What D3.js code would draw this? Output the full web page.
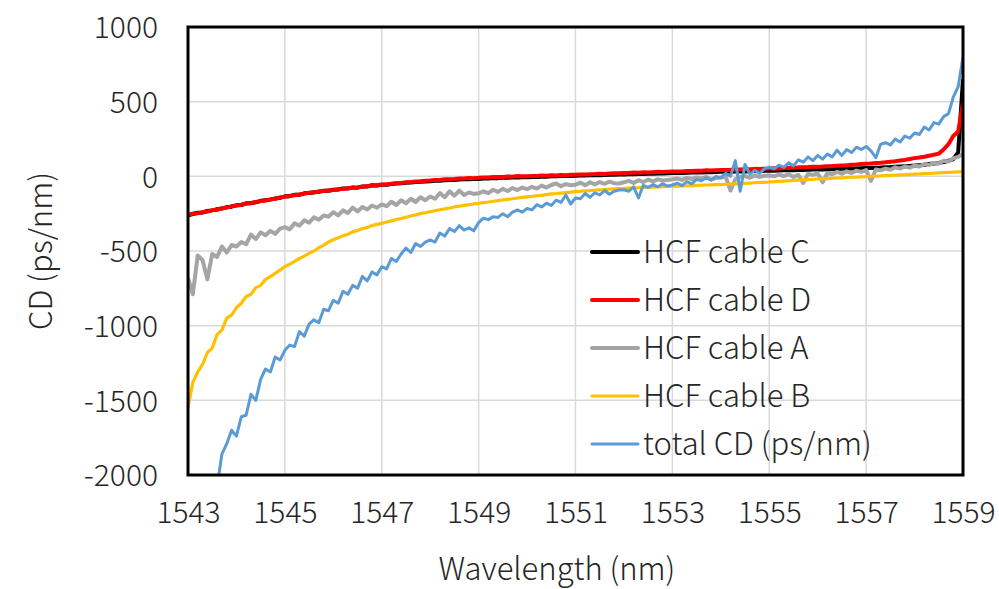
<!DOCTYPE html>
<html>
<head>
<meta charset="utf-8">
<script src="https://cdn.jsdelivr.net/npm/d3@7"></script>
<style>
  body { margin: 0; background: #fff; }
  svg text { font-family: "Noto Sans CJK JP", "Noto Sans", sans-serif; font-weight: 300; fill: #262626; }
</style>
</head>
<body>
<div id="chart"></div>
<script>
// wavelength grid (nm), 0.1 nm steps
var wavelength = [
  1543.0,1543.1,1543.2,1543.3,1543.4,1543.5,1543.6,1543.7,1543.8,1543.9,
  1544.0,1544.1,1544.2,1544.3,1544.4,1544.5,1544.6,1544.7,1544.8,1544.9,
  1545.0,1545.1,1545.2,1545.3,1545.4,1545.5,1545.6,1545.7,1545.8,1545.9,
  1546.0,1546.1,1546.2,1546.3,1546.4,1546.5,1546.6,1546.7,1546.8,1546.9,
  1547.0,1547.1,1547.2,1547.3,1547.4,1547.5,1547.6,1547.7,1547.8,1547.9,
  1548.0,1548.1,1548.2,1548.3,1548.4,1548.5,1548.6,1548.7,1548.8,1548.9,
  1549.0,1549.1,1549.2,1549.3,1549.4,1549.5,1549.6,1549.7,1549.8,1549.9,
  1550.0,1550.1,1550.2,1550.3,1550.4,1550.5,1550.6,1550.7,1550.8,1550.9,
  1551.0,1551.1,1551.2,1551.3,1551.4,1551.5,1551.6,1551.7,1551.8,1551.9,
  1552.0,1552.1,1552.2,1552.3,1552.4,1552.5,1552.6,1552.7,1552.8,1552.9,
  1553.0,1553.1,1553.2,1553.3,1553.4,1553.5,1553.6,1553.7,1553.8,1553.9,
  1554.0,1554.1,1554.2,1554.3,1554.4,1554.5,1554.6,1554.7,1554.8,1554.9,
  1555.0,1555.1,1555.2,1555.3,1555.4,1555.5,1555.6,1555.7,1555.8,1555.9,
  1556.0,1556.1,1556.2,1556.3,1556.4,1556.5,1556.6,1556.7,1556.8,1556.9,
  1557.0,1557.1,1557.2,1557.3,1557.4,1557.5,1557.6,1557.7,1557.8,1557.9,
  1558.0,1558.1,1558.2,1558.3,1558.4,1558.5,1558.6,1558.7,1558.8,1558.9,
  1559.0
];

var cableC = [
  -262,-252,-244,-242,-232,-228,-220,-216,-206,-203,
  -194,-192,-181,-178,-174,-164,-160,-156,-148,-144,
  -134,-133,-124,-124,-114,-112,-106,-104,-96,-97,
  -90,-88,-82,-82,-74,-76,-68,-68,-60,-62,
  -56,-56,-52,-48,-47,-43,-41,-38,-37,-34,
  -33,-29,-30,-26,-25,-24,-22,-20,-19,-18,
  -18,-15,-15,-12,-12,-10,-10,-8,-7,-6,
  -6,-4,-4,-2,-2,0,0,2,2,3,
  4,5,5,7,8,8,9,11,11,12,
  13,14,14,16,16,17,18,19,19,21,
  22,22,23,24,25,25,26,27,28,29,
  30,30,31,32,33,33,34,35,36,37,
  38,38,39,40,41,41,42,43,44,45,
  46,46,47,48,49,50,51,52,53,54,
  55,56,58,59,61,62,64,66,68,70,
  72,75,78,82,86,90,96,104,116,160,
  650
];

var cableD = [
  -258,-250,-248,-240,-236,-226,-224,-214,-210,-200,
  -196,-190,-183,-180,-172,-166,-162,-154,-150,-142,
  -136,-132,-126,-122,-116,-110,-108,-102,-98,-95,
  -92,-86,-84,-80,-76,-74,-70,-66,-62,-60,
  -55,-54,-50,-46,-44,-40,-38,-34,-33,-30,
  -28,-25,-24,-20,-19,-18,-15,-14,-11,-12,
  -10,-7,-8,-5,-4,-4,-1,-2,2,0,
  0,3,2,5,4,7,6,9,8,10,
  10,12,13,14,15,17,16,19,20,21,
  22,22,25,24,27,26,28,30,29,31,
  32,33,33,35,36,37,38,40,39,41,
  42,43,44,46,45,48,47,50,49,51,
  52,54,53,56,57,58,60,61,62,64,
  65,66,68,69,71,73,74,77,79,82,
  85,86,89,91,94,98,101,106,110,116,
  122,126,131,138,145,152,180,215,270,300,
  490
];

var cableA = [
  -680,-790,-530,-560,-690,-520,-540,-470,-510,-460,
  -470,-440,-455,-390,-420,-375,-395,-365,-385,-350,
  -340,-355,-315,-330,-295,-310,-275,-290,-262,-270,
  -240,-262,-228,-245,-210,-235,-205,-222,-195,-210,
  -188,-200,-170,-192,-160,-180,-150,-172,-140,-160,
  -135,-150,-112,-140,-100,-130,-95,-125,-108,-118,
  -114,-100,-112,-90,-104,-84,-98,-78,-92,-75,
  -86,-70,-82,-62,-75,-58,-48,-66,-52,-60,
  -56,-42,-60,-40,-55,-38,-50,-35,-46,-48,
  -40,-30,-44,-26,-38,-22,-34,-20,-28,-24,
  -20,-14,-24,-10,-18,-8,-14,-4,-22,-12,
  -8,-2,-95,-20,-4,2,-10,6,-4,4,
  6,0,12,2,14,-4,10,-45,16,10,
  20,-40,22,14,30,18,34,22,38,30,
  42,-30,46,40,52,44,60,52,66,58,
  72,66,82,76,90,86,104,100,120,130,
  150
];

var cableB = [
  -1545,-1380,-1310,-1260,-1180,-1150,-1060,-1030,-950,-930,
  -880,-850,-805,-790,-745,-730,-690,-672,-650,-628,
  -605,-588,-570,-550,-535,-515,-500,-478,-462,-440,
  -425,-412,-398,-388,-372,-362,-350,-342,-330,-322,
  -315,-306,-298,-290,-282,-274,-266,-258,-250,-244,
  -237,-230,-224,-218,-212,-205,-200,-194,-190,-185,
  -181,-176,-172,-167,-163,-158,-154,-150,-145,-141,
  -137,-134,-130,-127,-122,-118,-116,-112,-109,-106,
  -103,-100,-98,-96,-93,-91,-89,-86,-84,-82,
  -80,-78,-77,-76,-74,-73,-72,-70,-69,-68,
  -66,-65,-64,-63,-62,-60,-59,-58,-57,-56,
  -55,-53,-52,-50,-49,-47,-45,-43,-41,-40,
  -38,-36,-34,-32,-30,-28,-26,-24,-22,-20,
  -18,-16,-15,-13,-11,-10,-8,-6,-5,-3,
  -2,0,2,3,5,7,8,10,11,13,
  15,16,18,19,21,23,25,27,28,30,
  32
];

var totalCD = [
  null,null,null,null,null,null,-2080,-1860,-1790,-1700,
  -1740,-1610,-1600,-1460,-1500,-1360,-1290,-1310,-1210,-1230,
  -1165,-1130,-1140,-1040,-1070,-990,-960,-980,-890,-900,
  -830,-850,-770,-790,-730,-750,-670,-700,-640,-660,
  -605,-620,-550,-570,-520,-480,-510,-450,-470,-440,
  -426,-440,-380,-400,-350,-370,-330,-360,-345,-365,
  -310,-280,-290,-270,-275,-250,-270,-240,-225,-240,
  -215,-225,-190,-205,-180,-195,-160,-175,-125,-185,
  -145,-150,-115,-140,-110,-125,-95,-120,-100,-92,
  -90,-100,-70,-145,-60,-75,-55,-70,-50,-65,
  -58,-45,-62,-35,-50,-20,-30,-10,-25,0,
  -10,20,0,105,-100,80,15,40,20,50,
  62,50,75,60,90,70,110,95,130,105,
  140,115,150,130,175,140,180,160,195,180,
  200,170,125,215,225,210,250,230,270,255,
  290,280,330,310,360,350,400,420,530,600,
  800
];

var xTicks = [1543, 1545, 1547, 1549, 1551, 1553, 1555, 1557, 1559];
var yTicks = [-2000, -1500, -1000, -500, 0, 500, 1000];

var seriesNames = ["HCF cable C", "HCF cable D", "HCF cable A", "HCF cable B", "total CD (ps/nm)"];
var seriesValues = [cableC, cableD, cableA, cableB, totalCD];
var seriesColors = ["#000000", "#ff0000", "#a5a5a5", "#ffc000", "#5b9bd5"];
var seriesWidths = [4, 4, 4, 3.2, 3];

var W = 999, H = 589;
var m = { left: 188, right: 36, top: 27, bottom: 114 };

var svg = d3.select("#chart").append("svg")
  .attr("width", W).attr("height", H);

var x = d3.scaleLinear().domain([1543, 1559]).range([m.left, W - m.right]);
var y = d3.scaleLinear().domain([-2000, 1000]).range([H - m.bottom, m.top]);

// grid
svg.append("g").selectAll("line").data(xTicks).enter().append("line")
  .attr("x1", d => x(d)).attr("x2", d => x(d))
  .attr("y1", m.top).attr("y2", H - m.bottom)
  .attr("stroke", "#d9d9d9").attr("stroke-width", 1.5);
svg.append("g").selectAll("line").data(yTicks).enter().append("line")
  .attr("x1", m.left).attr("x2", W - m.right)
  .attr("y1", d => y(d)).attr("y2", d => y(d))
  .attr("stroke", "#d9d9d9").attr("stroke-width", 1.5);

// tick labels (plain hyphen minus like the original)
var xAxis = svg.append("g")
  .attr("transform", "translate(0," + (H - m.bottom) + ")")
  .call(d3.axisBottom(x).tickValues(xTicks).tickSize(0).tickPadding(27).tickFormat(d => String(d)));
var yAxis = svg.append("g")
  .attr("transform", "translate(" + m.left + ",0)")
  .call(d3.axisLeft(y).tickValues(yTicks).tickSize(0).tickPadding(30).tickFormat(d => String(d)));
[xAxis, yAxis].forEach(function(a) {
  a.select(".domain").remove();
  a.selectAll("text").style("font-size", "30px").style("font-family", null).attr("fill", "#262626");
});
yAxis.selectAll("text").attr("dy", "0.36em");

// data
svg.append("clipPath").attr("id", "plotClip").append("rect")
  .attr("x", m.left).attr("y", m.top)
  .attr("width", W - m.left - m.right).attr("height", H - m.top - m.bottom);

var line = d3.line()
  .defined(d => d[1] != null)
  .x(d => x(d[0])).y(d => y(d[1]));

var plot = svg.append("g").attr("clip-path", "url(#plotClip)");
seriesValues.forEach(function(vals, k) {
  plot.append("path")
    .datum(wavelength.map((w, i) => [w, vals[i]]))
    .attr("d", line)
    .attr("fill", "none")
    .attr("stroke", seriesColors[k])
    .attr("stroke-width", seriesWidths[k])
    .attr("stroke-linejoin", "round");
});

// frame
svg.append("rect")
  .attr("x", m.left).attr("y", m.top)
  .attr("width", W - m.left - m.right).attr("height", H - m.top - m.bottom)
  .attr("fill", "none").attr("stroke", "#000").attr("stroke-width", 3);

// axis titles
svg.append("text")
  .attr("x", 557).attr("y", 580)
  .attr("text-anchor", "middle")
  .style("font-size", "31px")
  .text("Wavelength (nm)");
svg.append("text")
  .attr("transform", "translate(52,251) rotate(-90)")
  .attr("text-anchor", "middle")
  .style("font-size", "31px")
  .text("CD (ps/nm)");

// legend
var leg = svg.append("g").attr("transform", "translate(592,252)");
seriesNames.forEach(function(name, k) {
  var g = leg.append("g").attr("transform", "translate(0," + (k * 48) + ")");
  g.append("line").attr("x1", 0).attr("x2", 46)
    .attr("stroke", seriesColors[k]).attr("stroke-width", seriesWidths[k])
    .attr("stroke-linecap", "round");
  g.append("text").attr("x", 51).attr("dy", "0.36em")
    .style("font-size", "31px").text(name);
});
</script>
</body>
</html>
